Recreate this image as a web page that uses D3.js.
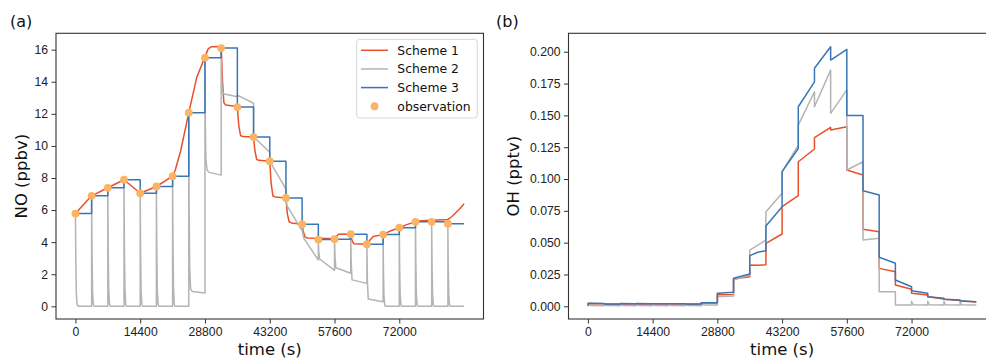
<!DOCTYPE html>
<html>
<head>
<meta charset="utf-8">
<script src="https://cdn.jsdelivr.net/npm/d3@7"></script>
<style>
	body { margin: 0; background: #fff; }
	svg { font-family: "DejaVu Sans", sans-serif; }
</style>
</head>
<body>
<svg id="chart" width="986" height="359"></svg>
<script>
// ---- data (time in s) ----
var xTicks = [0, 14400, 28800, 43200, 57600, 72000];
var noTicks = [0, 2, 4, 6, 8, 10, 12, 14, 16];
var ohTicks = [0, 0.025, 0.05, 0.075, 0.1, 0.125, 0.15, 0.175, 0.2];

// hourly observation times
var obsTime = [0, 3600, 7200, 10800, 14400, 18000, 21600, 25200, 28800, 32400, 36000, 39600,
	43200, 46800, 50400, 54000, 57600, 61200, 64800, 68400, 72000, 75600, 79200, 82800];
var obsNO = [5.78, 6.89, 7.39, 7.89, 7.05, 7.47, 8.11, 12.07, 15.5, 16.1, 12.42, 10.55,
	9.05, 6.76, 5.12, 4.16, 4.18, 4.5, 3.87, 4.47, 4.9, 5.27, 5.27, 5.14];

// Scheme 3 NO: held hourly values (step), last one held to the end of the day
var scheme3NOTime = [0, 3600, 7200, 10800, 14400, 18000, 21600, 25200, 28800, 32400, 36000, 39600,
	43200, 46800, 50400, 54000, 57600, 61200, 64800, 68400, 72000, 75600, 79200, 82800, 86400];
var scheme3NO = [5.78, 6.89, 7.39, 7.89, 7.05, 7.47, 8.11, 12.07, 15.5, 16.1, 12.42, 10.55,
	9.05, 6.76, 5.12, 4.16, 4.18, 4.5, 3.87, 4.47, 4.9, 5.27, 5.27, 5.14, 5.14];

// Scheme 1 NO [t, ppbv]
var scheme1NO = [[0,5.78],[3600,6.89],[7200,7.39],[10800,7.89],[14400,7.05],[18000,7.47],[21600,8.11],
	[22200,8.5],[23400,9.7],[25200,12.07],[27000,14.3],[28800,15.55],[29500,16.05],[30200,16.18],[32400,16.2],
	[32700,14.0],[33000,12.7],[33400,12.55],[36000,12.45],[36300,11.3],[36700,10.65],[37200,10.58],[39600,10.55],
	[39900,9.7],[40300,9.15],[40800,9.1],[43200,9.05],[43500,7.7],[43900,6.88],[44400,6.82],[46800,6.76],
	[47100,5.8],[47500,5.27],[48000,5.2],[50400,5.12],[50700,4.6],[51100,4.3],[51600,4.26],[54000,4.24],
	[57600,4.22],[58000,4.35],[58500,4.5],[61200,4.51],[61500,4.1],[61900,3.9],[64800,3.87],[65400,4.1],
	[66200,4.35],[68400,4.47],[70000,4.7],[72000,4.9],[73500,5.08],[75600,5.28],[76800,5.34],[79200,5.37],
	[82800,5.42],[83700,5.6],[84600,5.85],[85500,6.1],[86400,6.39]];

// Scheme 2 NO [t, ppbv]
var scheme2NO = [[0,5.78],[80,3.0],[200,0.8],[380,0.1],[600,0],
	[3600,0],[3600,6.89],[3680,3.6],[3800,1.0],[3980,0.1],[4200,0],
	[7200,0],[7200,7.39],[7280,3.9],[7400,1.1],[7580,0.1],[7800,0],
	[10800,0],[10800,7.89],[10880,4.1],[11000,1.2],[11180,0.1],[11400,0],
	[14400,0],[14400,7.05],[14480,3.7],[14600,1.0],[14780,0.1],[15000,0],
	[18000,0],[18000,7.47],[18080,3.9],[18200,1.1],[18380,0.1],[18600,0],
	[21600,0],[21600,8.11],[21680,4.2],[21800,1.2],[21980,0.1],[22200,0],
	[25200,0],[25200,12.07],[25280,6.2],[25400,2.4],[25600,1.1],[26000,0.92],[28800,0.83],
	[28800,15.5],[28880,11.3],[29000,9.2],[29250,8.5],[29700,8.35],[32400,8.18],
	[32400,16.1],[32480,14.6],[32600,13.6],[32850,13.25],[36000,13.07],
	[36000,13.17],[39600,12.66],
	[39600,10.57],[43200,9.6],
	[43200,9.05],[46800,7.3],
	[46800,6.76],[47000,6.3],[50400,4.7],
	[50400,5.12],[50550,4.5],[50850,4.2],[54000,2.89],
	[54000,4.16],[54100,3.4],[54300,2.95],[57600,2.24],
	[57600,4.18],[57700,3.1],[57900,2.4],[61200,2.06],
	[61200,4.5],[61300,2.8],[61500,1.65],[64800,1.43],
	[64800,3.87],[64900,1.6],[65100,0.45],[68400,0.29],
	[68400,4.47],[68480,2.3],[68600,0.6],[68780,0.06],[69000,0],
	[72000,0],[72000,4.9],[72080,2.5],[72200,0.7],[72380,0.06],[72600,0],
	[75600,0],[75600,5.27],[75680,2.7],[75800,0.75],[75980,0.06],[76200,0],
	[79200,0],[79200,5.27],[79280,2.7],[79400,0.75],[79580,0.06],[79800,0],
	[82800,0],[82800,5.14],[82880,2.6],[83000,0.7],[83180,0.06],[83400,0],[86400,0]];

// OH [t, pptv]
var scheme1OH = [[0,0.0005],[60,0.0022],[3600,0.0021],[3600,0.0017],[7200,0.0016],[7200,0.002],
	[10800,0.0019],[10800,0.002],[14400,0.0019],[18000,0.0018],[18000,0.0019],[21600,0.0018],
	[21600,0.0017],[25200,0.0016],[25200,0.0025],[28800,0.0026],[28800,0.009],[32400,0.0092],
	[32400,0.0214],[36000,0.0233],[36000,0.0324],[37200,0.0322],[39600,0.0326],[39600,0.0495],
	[43200,0.0568],[43200,0.0783],[46800,0.0869],[46800,0.1136],[50400,0.1236],[50400,0.1325],
	[54000,0.1406],[54000,0.1385],[57600,0.1411],[57600,0.1071],[61200,0.1031],[61200,0.0605],
	[64800,0.0586],[64800,0.0298],[68400,0.0272],[68400,0.0167],[72000,0.0134],[72000,0.0102],
	[75600,0.0089],[75600,0.0075],[79200,0.0058],[79200,0.0055],[82800,0.0045],[82800,0.0042],[86400,0.0034]];

var scheme2OH = [[0,0.0002],[60,0.0012],[600,0.0006],[3600,0.0005],[3600,0.0013],[4200,0.0006],
	[7200,0.0005],[7200,0.0013],[7800,0.0006],[10800,0.0005],[10800,0.0013],[11400,0.0006],
	[14400,0.0005],[14400,0.0013],[15000,0.0006],[18000,0.0005],[18000,0.0013],[18600,0.0006],
	[21600,0.0005],[21600,0.0013],[22200,0.0006],[25200,0.0005],[25200,0.0016],[25800,0.001],
	[28800,0.001],[28800,0.0075],[32400,0.008],[32400,0.0207],[36000,0.0246],[36000,0.0442],
	[39600,0.052],[39600,0.0743],[43200,0.0888],[43200,0.1058],[46800,0.1267],[46800,0.1424],
	[50400,0.1686],[50400,0.1568],[54000,0.1856],[54000,0.1516],[57600,0.17],[57600,0.1071],
	[61200,0.1136],[61200,0.052],[64800,0.0534],[64800,0.0115],[68400,0.0115],[68400,0.001],
	[72000,0.001],[72000,0.004],[72300,0.0012],[75600,0.001],[75600,0.004],[75900,0.0012],
	[79200,0.001],[79200,0.004],[79500,0.0012],[82800,0.001],[82800,0.004],[83100,0.0012],[86400,0.001]];

var scheme3OH = [[0,0.0004],[60,0.0024],[3600,0.0022],[3600,0.0019],[7200,0.0018],[7200,0.0022],
	[10800,0.0021],[10800,0.0022],[14400,0.0021],[18000,0.002],[18000,0.0021],[21600,0.002],
	[21600,0.0019],[25200,0.0018],[25200,0.0027],[28800,0.0028],[28800,0.0102],[32400,0.011],
	[32400,0.022],[36000,0.0254],[36000,0.0398],[37800,0.0425],[39600,0.0437],[39600,0.0631],
	[43200,0.0783],[43200,0.1058],[46800,0.124],[46800,0.1568],[50400,0.1764],[50400,0.187],
	[54000,0.2039],[54000,0.1935],[57600,0.2019],[57600,0.15],[61200,0.15],[61200,0.0908],
	[64800,0.0874],[64800,0.0385],[68400,0.0338],[68400,0.0207],[72000,0.0154],[72000,0.0123],
	[75600,0.0102],[75600,0.0075],[79200,0.0063],[79200,0.0055],[82800,0.005],[82800,0.0044],[86400,0.0036]];

var legendNames = ["Scheme 1", "Scheme 2", "Scheme 3", "observation"];
var colors = { s1: "#e8502a", s2: "#b4b4b4", s3: "#3a76b5", obs: "#fdb462" };

var svg = d3.select("#chart");

function draw_panel(p){
	var x = d3.scaleLinear().domain([-4320, 90720]).range([p.left, p.right]);
	var y = d3.scaleLinear().domain(p.ydomain).range([p.bottom, p.top]);

	var g = svg.append("g");

	// axes
	var xAxis = g.append("g")
			.attr("transform", "translate(0," + p.bottom + ")")
			.call(d3.axisBottom(x).tickValues(xTicks).tickFormat(d3.format("d")).tickSize(4.5).tickPadding(3.5));
	var yAxis = g.append("g")
			.attr("transform", "translate(" + p.left + ",0)")
			.call(d3.axisLeft(y).tickValues(p.yticks).tickFormat(p.yfmt).tickSize(4.5).tickPadding(3.5));
	[xAxis, yAxis].forEach(function(a){
		a.select(".domain").remove();
		a.selectAll("line").attr("stroke", "#333").attr("stroke-width", 1);
		a.selectAll("text").attr("fill", "#222").style("font-size", "12.2px");
	});

	// lines
	var line = d3.line()
			.x(function(d){ return x(d[0]); })
			.y(function(d){ return y(d[1]); });

	p.series.forEach(function(s){
		g.append("path")
			.datum(s.data)
			.attr("d", line.curve(s.curve || d3.curveLinear)(s.data))
			.attr("fill", "none")
			.attr("stroke", s.color)
			.attr("stroke-width", 1.5)
			.attr("stroke-linejoin", "round");
	});

	if (p.points) {
		g.append("g").selectAll("circle")
			.data(p.points)
			.enter()
			.append("circle")
			.attr("cx", function(d){ return x(d[0]); })
			.attr("cy", function(d){ return y(d[1]); })
			.attr("r", 3.9)
			.attr("fill", colors.obs);
	}

	// frame
	g.append("rect")
		.attr("x", p.left).attr("y", p.top)
		.attr("width", p.right - p.left).attr("height", p.bottom - p.top)
		.attr("fill", "none").attr("stroke", "#333").attr("stroke-width", 1.1);

	// labels
	g.append("text")
		.attr("x", (p.left + p.right) / 2).attr("y", 355)
		.attr("text-anchor", "middle")
		.style("font-size", "16.5px").attr("fill", "#111")
		.text("time (s)");
	g.append("text")
		.attr("transform", "translate(" + p.ylabX + "," + ((p.top + p.bottom) / 2) + ") rotate(-90)")
		.attr("text-anchor", "middle")
		.style("font-size", "16.5px").attr("fill", "#111")
		.text(p.ylabel);
	g.append("text")
		.attr("x", p.tagX).attr("y", 26.5)
		.style("font-size", "16px").attr("fill", "#111")
		.text(p.tag);
}

var obsPoints = obsTime.map(function(t, i){ return [t, obsNO[i]]; });
var s3Points = scheme3NOTime.map(function(t, i){ return [t, scheme3NO[i]]; });

draw_panel({
	left: 56, right: 483.5, top: 33.3, bottom: 319,
	ydomain: [-0.79, 17.02], yticks: noTicks, yfmt: d3.format("d"),
	ylabel: "NO (ppbv)", ylabX: 26.5, tag: "(a)", tagX: 10,
	series: [
		{ data: scheme1NO, color: colors.s1 },
		{ data: scheme2NO, color: colors.s2 },
		{ data: s3Points, color: colors.s3, curve: d3.curveStepAfter }
	],
	points: obsPoints
});

draw_panel({
	left: 568.5, right: 995.7, top: 33.3, bottom: 319,
	ydomain: [-0.00998, 0.2145], yticks: ohTicks, yfmt: d3.format(".3f"),
	ylabel: "OH (pptv)", ylabX: 518.5, tag: "(b)", tagX: 496,
	series: [
		{ data: scheme1OH, color: colors.s1 },
		{ data: scheme2OH, color: colors.s2 },
		{ data: scheme3OH, color: colors.s3 }
	]
});

// legend (panel a)
var leg = svg.append("g");
leg.append("rect")
	.attr("x", 356.7).attr("y", 39.3).attr("width", 120.6).attr("height", 78.7)
	.attr("rx", 3).attr("fill", "#fff").attr("fill-opacity", 0.8)
	.attr("stroke", "#d6d6d6").attr("stroke-width", 1);
var legColors = [colors.s1, colors.s2, colors.s3, colors.obs];
legendNames.forEach(function(name, i){
	var cy = 50.3 + i * 18.65;
	if (i < 3) {
		leg.append("line")
			.attr("x1", 361).attr("x2", 388).attr("y1", cy).attr("y2", cy)
			.attr("stroke", legColors[i]).attr("stroke-width", 1.5);
	} else {
		leg.append("circle").attr("cx", 374.5).attr("cy", cy).attr("r", 3.9).attr("fill", legColors[i]);
	}
	leg.append("text")
		.attr("x", 397.3).attr("y", cy + 4.5)
		.style("font-size", "12.4px").attr("fill", "#111")
		.text(name);
});
</script>
</body>
</html>
